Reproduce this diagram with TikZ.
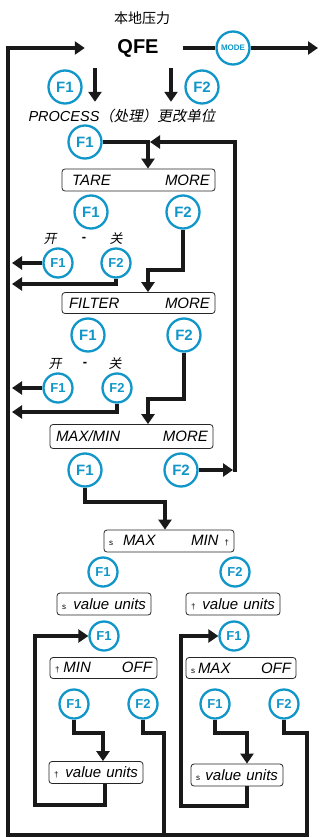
\documentclass[tikz,border=0pt]{standalone}
\usepackage{fontspec}
\setmainfont{Liberation Sans}
\newfontfamily\cjk{Noto Sans CJK SC}
\newfontfamily\cjkit[FakeSlant=0.2]{Noto Sans CJK SC}
\usetikzlibrary{arrows.meta,positioning}
\definecolor{keyblue}{RGB}{16,150,200}
\newcommand{\symS}{{\upshape\fontsize{8}{8}\selectfont s}}
\newcommand{\symD}{{\upshape\fontsize{8}{8}\selectfont\textdagger}}

\begin{document}
\begin{tikzpicture}[x=1pt,y=-1pt,on grid,
   wire/.style={line width=3.2pt,draw=black!90},
   arr/.style={wire,-{Triangle[length=10pt,width=13pt]}},
   key/.style={circle,draw=keyblue,line width=2.3pt,fill=white,text=keyblue,
      minimum size=33pt,inner sep=0pt,font=\bfseries\fontsize{15}{15}\selectfont},
   smallkey/.style={key,minimum size=29pt,font=\bfseries\fontsize{13}{13}\selectfont},
   lcd/.style={draw=black!85,line width=0.8pt,rounded corners=3pt,fill=white,
      inner xsep=5pt,inner ysep=0pt,minimum height=22pt,
      font=\itshape\fontsize{15}{15}\selectfont},
   cn/.style={font=\cjkit\fontsize{13}{13}\selectfont}]
   \useasboundingbox (0,0) rectangle (320,837);

   \node (title) at (142,18) {\cjk\fontsize{14}{14}\selectfont 本地压力};
   \node[minimum width=98pt,minimum height=40pt,inner sep=0pt,
      font=\bfseries\fontsize{20}{20}\selectfont] (qfe) at (134,48) {\hspace*{8pt}QFE};
   \node[key,font=\bfseries\fontsize{8}{8}\selectfont] (mode) at (233,48) {MODE};
   \coordinate (next) at (318,48);

   \node[key] (p1) at (65,87) {F1};
   \node[key] (p2) [right=137pt of p1] {F2};
   \node[minimum height=28pt,inner sep=0pt,font=\itshape\fontsize{14.5}{14.5}\selectfont]
      (proc) at (122,116) {PROCESS{\cjkit（处理）更改单位}};

   \node[key] (f1) at (85,142) {F1};
   \node[lcd,text width=143pt] (tare) at (138.5,180) {\hspace*{5pt}TARE\hfill MORE\hspace*{3pt}};
   \node[key] (t1) at (91,212) {F1};
   \node[key] (t2) [right=92pt of t1] {F2};
   \node[cn] (on1) at (50,239) {开};
   \node[font=\bfseries\fontsize{13}{13}\selectfont] (dash1) at (84,239) {-};
   \node[cn] (off1) at (116,239) {关};
   \node[smallkey] (ta) at (58,263) {F1};
   \node[smallkey] (tb) [right=58pt of ta] {F2};

   \node[lcd,text width=143pt,minimum height=21pt] (filter) at (138.5,303) {\hspace*{2pt}FILTER\hfill MORE\hspace*{1pt}};
   \node[key] (g1) at (88,335) {F1};
   \node[key] (g2) [right=96pt of g1] {F2};
   \node[cn] (on2) at (55,364) {开};
   \node[font=\bfseries\fontsize{13}{13}\selectfont] (dash2) at (85,364) {-};
   \node[cn] (off2) at (115,364) {关};
   \node[smallkey] (ga) at (58,388) {F1};
   \node[smallkey] (gb) [right=59pt of ga] {F2};

   \node[lcd,text width=153pt,minimum height=24pt] (maxmin) at (131.5,436.5) {\hspace*{1pt}MAX/MIN\hfill MORE\hspace*{1pt}};
   \node[key] (m1) at (85,470) {F1};
   \node[key] (m2) [right=96pt of m1] {F2};
   \coordinate (back) at (235,472);
   \coordinate (join) at (150,142);

   \node[lcd,text width=120pt] (range) at (169,541) {\symS\hspace*{10pt}MAX\hfill MIN\hspace*{6pt}\symD\hspace*{5pt}};
   \node[smallkey] (s1) at (103,572) {F1};
   \node[smallkey] (s2) [right=132pt of s1] {F2};
   \node[lcd,text width=84pt] (vala) at (104,604) {\symS\hfill value units};
   \node[lcd,text width=84pt] (valb) at (233,604) {\symD\hfill value units};
   \node[smallkey] (v1) at (104,636) {F1};
   \node[smallkey] (v2) [right=130pt of v1] {F1};
   \node[lcd,text width=97pt,minimum height=21pt] (minoff) at (103.5,668) {\symD\hspace*{4pt}MIN\hfill OFF};
   \node[lcd,text width=100pt,minimum height=21pt] (maxoff) at (241,668) {\symS\hspace*{3pt}MAX\hfill OFF};
   \node[smallkey] (n1) at (74,704) {F1};
   \node[smallkey] (n2) [right=69pt of n1] {F2};
   \node[smallkey] (x1) at (215,704) {F1};
   \node[smallkey] (x2) [right=69pt of x1] {F2};
   \node[lcd,text width=84pt] (valc) at (96,772.5) {\symD\hfill value units};
   \node[lcd,text width=82pt] (vald) at (237,775) {\symS\hfill value units};

   \draw[arr] (qfe) -- (mode) -- (next);
   \draw[arr] (qfe.south -| 95,0) -- (proc.north -| 95,0);
   \draw[arr] (qfe.south -| 171,0) -- (proc.north -| 171,0);
   \draw[arr] (x2) |- (307,733) |- (8,835) |- (qfe);
   \draw[wire] (n2) |- (164,733) -- (164,835);
   \draw[arr] (f1) -| (tare.north -| 148,0);
   \draw[arr] (back) |- (join);
   \draw[arr] (t2) |- (148,270) -- (filter.north -| 148,0);
   \draw[arr] (ta) -- (ta -| 12,0);
   \draw[arr] (tb) |- (12,284);
   \draw[arr] (g2) |- (148,399) -- (maxmin.north -| 148,0);
   \draw[arr] (ga) -- (ga -| 12,0);
   \draw[arr] (gb) |- (12,412);
   \draw[arr] (m2) -- (m2 -| 233,0);
   \draw[arr] (m1) |- (165,502) -- (range.north -| 165,0);
   \draw[arr] (valc.south -| 105,0) |- (35,805) |- (v1);
   \draw[arr] (vald.south -| 247,0) |- (181,806) |- (v2);
   \draw[arr] (n1) |- (103,733) -- (valc.north -| 103,0);
   \draw[arr] (x1) |- (247,733) -- (vald.north -| 247,0);
\end{tikzpicture}
\end{document}
